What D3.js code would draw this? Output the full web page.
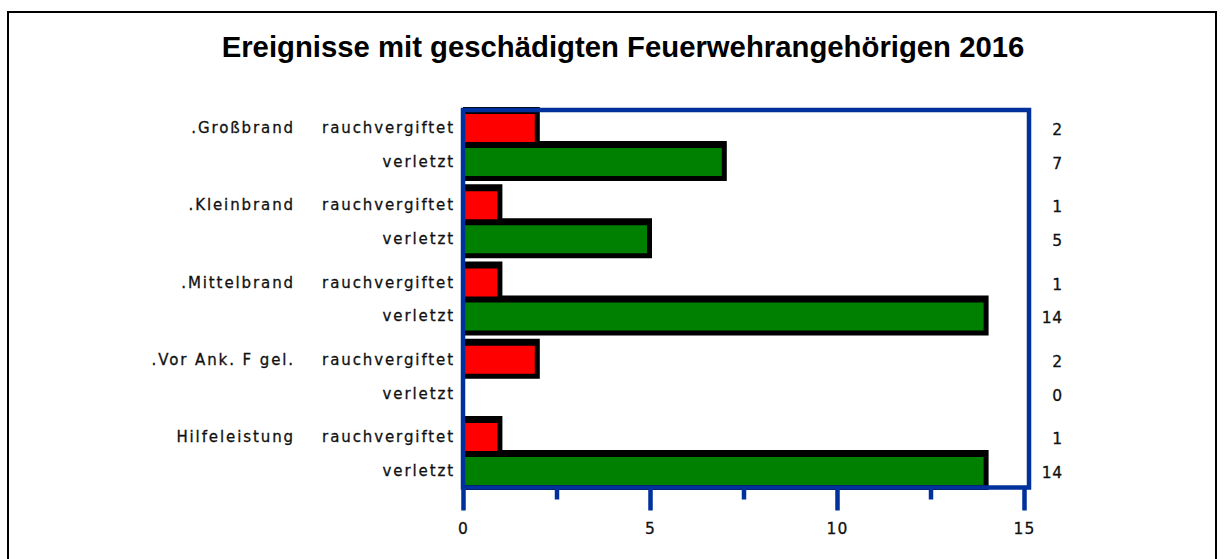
<!DOCTYPE html>
<html>
<head>
<meta charset="utf-8">
<script src="https://cdn.jsdelivr.net/npm/d3@7"></script>
<style>
  html, body { margin: 0; padding: 0; background: #fff; }
  svg { display: block; }
  .small { font-family: "DejaVu Sans", sans-serif; font-size: 15px; letter-spacing: 1.9px; fill: #111; stroke: #111; stroke-width: 0.3px; }
  .num { font-family: "DejaVu Sans", sans-serif; font-size: 15.5px; letter-spacing: 0.5px; fill: #111; stroke: #111; stroke-width: 0.3px; }
</style>
</head>
<body>
<svg id="chart" width="1225" height="559"></svg>
<script>
const title = "Ereignisse mit geschädigten Feuerwehrangehörigen 2016";
const groups = [".Großbrand", ".Kleinbrand", ".Mittelbrand", ".Vor Ank. F gel.", "Hilfeleistung"];
const seriesNames = ["rauchvergiftet", "verletzt"];
const rauchvergiftet = [2, 1, 1, 2, 1];
const verletzt = [7, 5, 14, 0, 14];
const xTicks = [0, 5, 10, 15];
const xMinorTicks = [2.5, 7.5, 12.5];
const seriesColors = ["#ff0000", "#008000"];

const svg = d3.select("#chart");
const blue = "#00309c";

// outer border
svg.append("rect").attr("x", 8).attr("y", 12).attr("width", 1208).attr("height", 600)
  .attr("fill", "none").attr("stroke", "#000").attr("stroke-width", 2);

svg.append("text").attr("x", 623).attr("y", 57).attr("text-anchor", "middle")
  .attr("font-family", "'Liberation Sans', Arial, sans-serif").attr("font-weight", "bold")
  .attr("font-size", 29.3).attr("fill", "#000").text(title);

const x = d3.scaleLinear().domain([0, 15]).range([463, 1024]);
const y0 = d3.scaleBand().domain(groups).range([114, 114 + 5 * 77.25]).padding(0);
const y1 = d3.scaleBand().domain(seriesNames).range([0, 62]).paddingInner(0.176).paddingOuter(0);

const rows = [];
groups.forEach((g, i) => {
  rows.push({group: g, series: seriesNames[0], value: rauchvergiftet[i], color: seriesColors[0], first: true});
  rows.push({group: g, series: seriesNames[1], value: verletzt[i], color: seriesColors[1], first: false});
});
const rowY = d => y0(d.group) + y1(d.series);
const bw = y1.bandwidth();

const bars = svg.append("g");
rows.forEach(d => {
  if (d.value <= 0) return;
  bars.append("rect")
    .attr("x", x(0)).attr("y", rowY(d) - 7)
    .attr("width", x(d.value) + 2 - x(0)).attr("height", bw + 12)
    .attr("fill", "#000");
});
rows.forEach(d => {
  if (d.value <= 0) return;
  bars.append("rect")
    .attr("x", x(0) + 2).attr("y", rowY(d))
    .attr("width", x(d.value) - 3 - x(0) - 2).attr("height", bw)
    .attr("fill", d.color);
});

// frame
svg.append("rect").attr("x", 463).attr("y", 110).attr("width", 1029 - 463).attr("height", 487.5 - 110)
  .attr("fill", "none").attr("stroke", blue).attr("stroke-width", 4.5);

// axes
const axis = svg.append("g").attr("transform", "translate(0,487.5)")
  .call(d3.axisBottom(x).tickValues(xTicks).tickSize(23).tickPadding(12).tickFormat(d3.format("d")));
axis.select(".domain").remove();
axis.selectAll("line").attr("stroke", blue).attr("stroke-width", 4.5);
axis.selectAll("text").attr("class", "num").attr("font-size", null).attr("font-family", null)
  .attr("fill", null).style("letter-spacing", "1.2px");

const minor = svg.append("g").attr("transform", "translate(0,487.5)")
  .call(d3.axisBottom(x).tickValues(xMinorTicks).tickSize(12).tickFormat(""));
minor.select(".domain").remove();
minor.selectAll("line").attr("stroke", blue).attr("stroke-width", 4.5);

// labels
rows.forEach(d => {
  const cy = rowY(d) + bw / 2;
  if (d.first) {
    svg.append("text").attr("class", "small").attr("x", 295).attr("y", cy)
      .attr("text-anchor", "end").attr("dominant-baseline", "central").text(d.group);
  }
  svg.append("text").attr("class", "small").attr("x", 455).attr("y", cy)
    .attr("text-anchor", "end").attr("dominant-baseline", "central").text(d.series);
  svg.append("text").attr("class", "num").attr("x", 1062.5).attr("y", cy + 2)
    .attr("text-anchor", "end").attr("dominant-baseline", "central").text(d.value);
});
</script>
</body>
</html>
